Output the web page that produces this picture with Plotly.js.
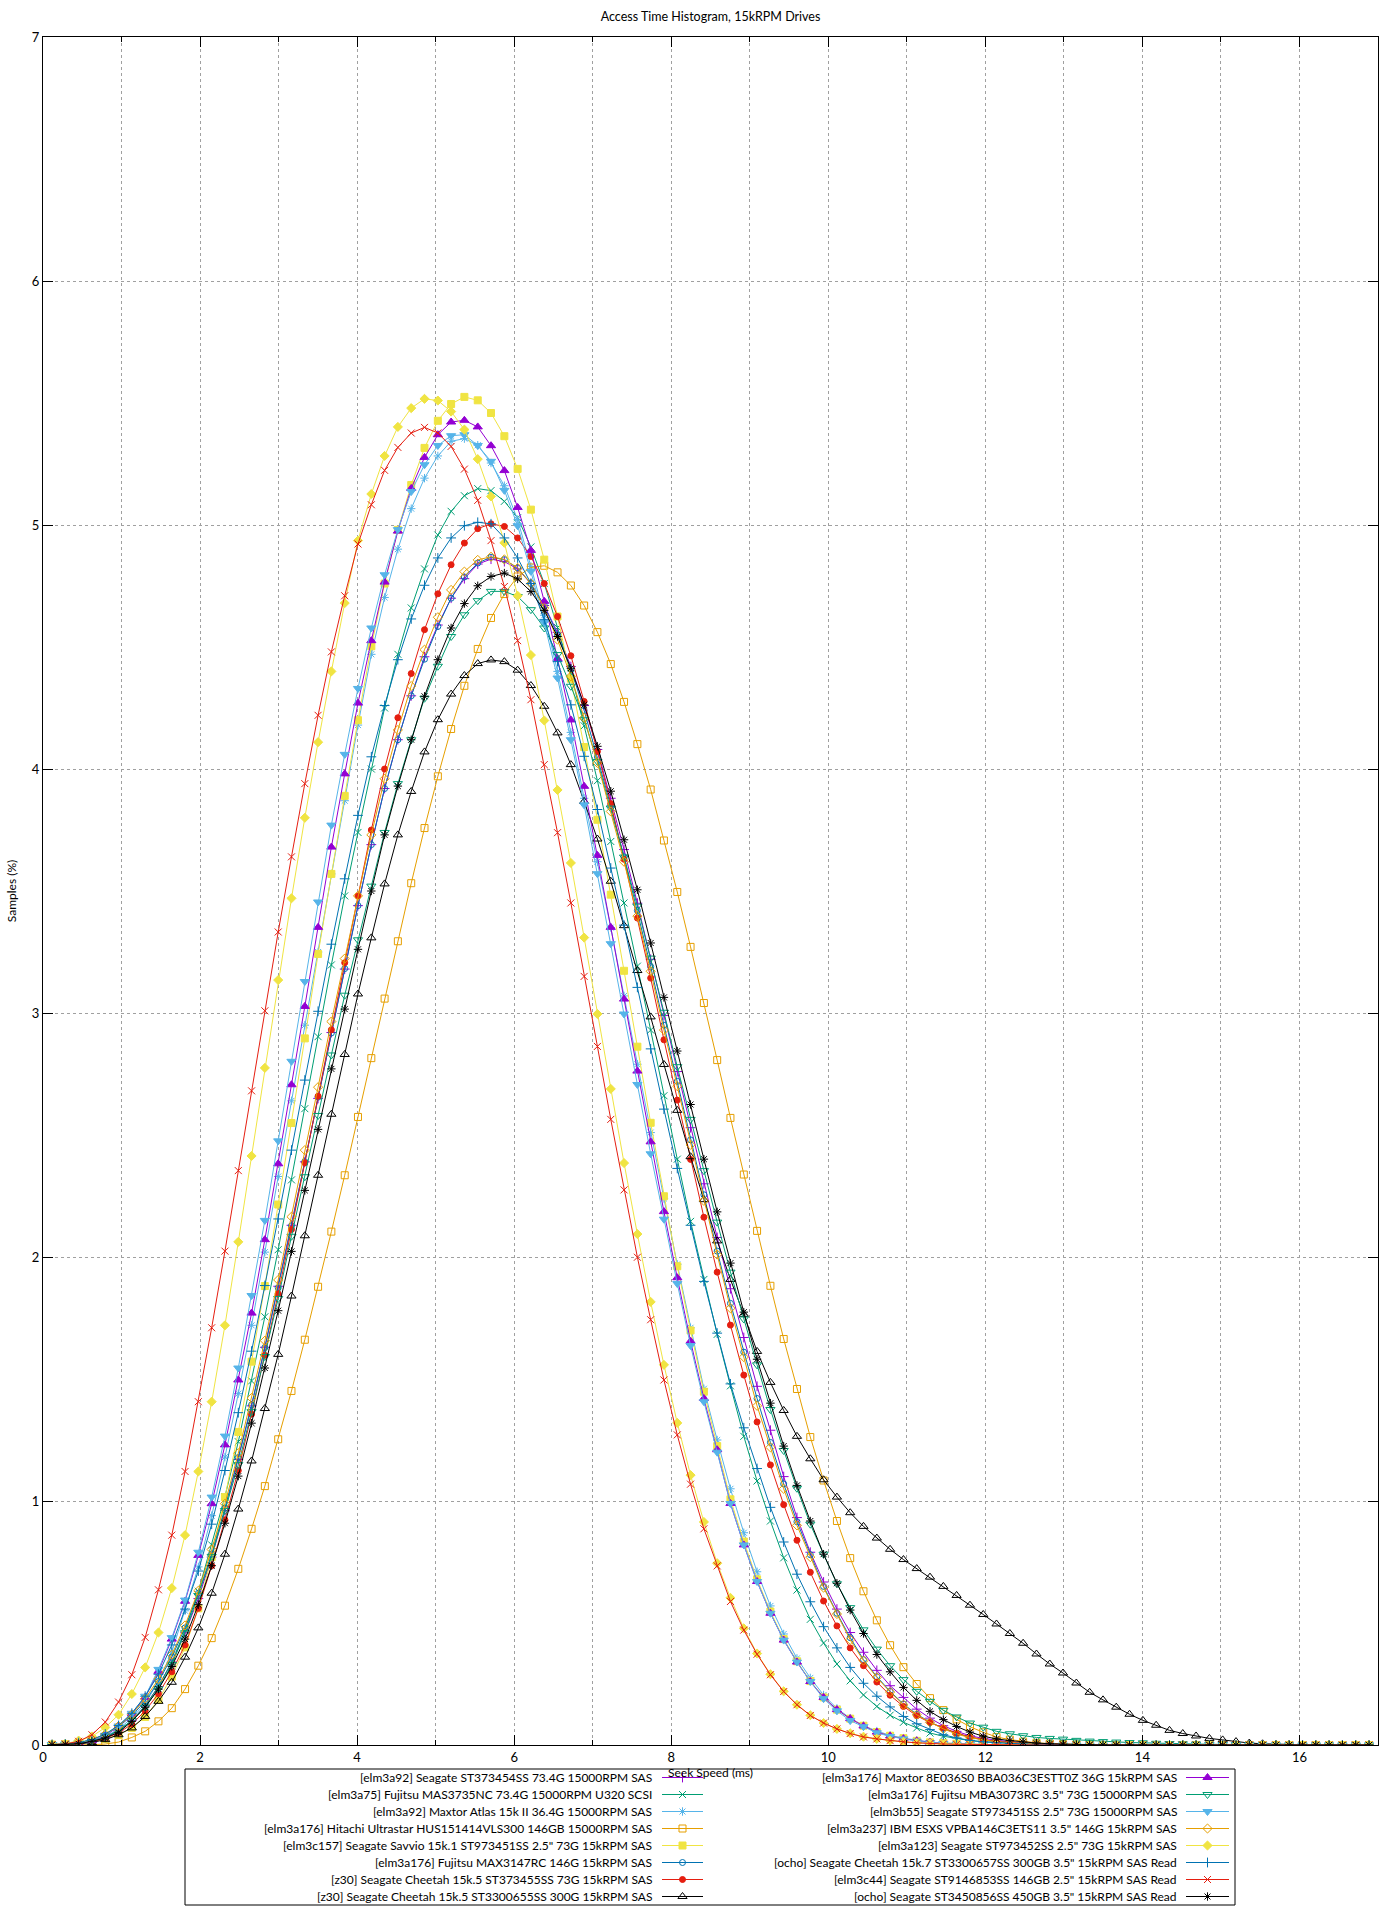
<!DOCTYPE html>
<html>
<head>
<meta charset="utf-8">
<script src="https://cdn.plot.ly/plotly-3.0.1.min.js"></script>
<style>html,body{margin:0;padding:0;background:#fff}#chart{width:1400px;height:1920px}</style>
</head>
<body>
<div id="chart"></div>
<script>
// Seek speed bin positions (ms)
const seekMs = [
 0.115,0.284,0.454,0.623,0.793,0.962,1.131,1.301,1.470,1.640,
 1.809,1.978,2.148,2.317,2.487,2.656,2.825,2.995,3.164,3.334,
 3.503,3.672,3.842,4.011,4.181,4.350,4.519,4.689,4.858,5.028,
 5.197,5.366,5.536,5.705,5.875,6.044,6.213,6.383,6.552,6.722,
 6.891,7.060,7.230,7.399,7.569,7.738,7.907,8.077,8.246,8.416,
 8.585,8.754,8.924,9.093,9.263,9.432,9.601,9.771,9.940,10.110,
 10.279,10.448,10.618,10.787,10.957,11.126,11.295,11.465,11.634,11.804,
 11.973,12.142,12.312,12.481,12.651,12.820,12.989,13.159,13.328,13.498,
 13.667,13.836,14.006,14.175,14.345,14.514,14.683,14.853,15.022,15.192,
 15.361,15.530,15.700,15.869,16.039,16.208,16.377,16.547,16.716,16.886
];

const seriesNames = [
 "[elm3a92] Seagate ST373454SS 73.4G 15000RPM SAS",
 "[elm3a75] Fujitsu MAS3735NC 73.4G 15000RPM U320 SCSI",
 "[elm3a92] Maxtor Atlas 15k II 36.4G 15000RPM SAS",
 "[elm3a176] Hitachi Ultrastar HUS151414VLS300 146GB 15000RPM SAS",
 "[elm3c157] Seagate Savvio 15k.1 ST973451SS 2.5\" 73G 15kRPM SAS",
 "[elm3a176] Fujitsu MAX3147RC 146G 15kRPM SAS",
 "[z30] Seagate Cheetah 15k.5 ST373455SS 73G 15kRPM SAS",
 "[z30] Seagate Cheetah 15k.5 ST3300655SS 300G 15kRPM SAS",
 "[elm3a176] Maxtor 8E036S0 BBA036C3ESTT0Z 36G 15kRPM SAS",
 "[elm3a176] Fujitsu MBA3073RC 3.5\" 73G 15000RPM SAS",
 "[elm3b55] Seagate ST973451SS 2.5\" 73G 15000RPM SAS",
 "[elm3a237] IBM ESXS VPBA146C3ETS11 3.5\" 146G 15kRPM SAS",
 "[elm3a123] Seagate ST973452SS 2.5\" 73G 15kRPM SAS",
 "[ocho] Seagate Cheetah 15k.7 ST3300657SS 300GB 3.5\" 15kRPM SAS Read",
 "[elm3c44] Seagate ST9146853SS 146GB 2.5\" 15kRPM SAS Read",
 "[ocho] Seagate ST3450856SS 450GB 3.5\" 15kRPM SAS Read"
];

// Samples (%) per bin, one array per drive
const pctST373454SS = [
 0.001,0.002,0.006,0.014,0.030,0.058,0.10,0.16,0.24,0.34,
 0.46,0.60,0.77,0.96,1.17,1.39,1.63,1.88,2.13,2.39,
 2.65,2.92,3.18,3.44,3.69,3.92,4.12,4.30,4.46,4.59,
 4.70,4.78,4.84,4.86,4.85,4.82,4.76,4.67,4.56,4.42,
 4.26,4.08,3.88,3.67,3.45,3.22,2.99,2.76,2.53,2.30,
 2.08,1.87,1.67,1.47,1.29,1.10,0.932,0.79,0.668,0.557,
 0.461,0.380,0.306,0.243,0.195,0.147,0.110,0.079,0.056,0.038,
 0.027,0.019,0.013,0.009,0.006,0.004,0.003,0.002,0.001,0,
 0,0,0,0,0,0,0,0,0,0,
 0,0,0,0,0,0,0,0,0,0
];
const pctMAS3735NC = [
 0.001,0.003,0.007,0.016,0.033,0.06,0.10,0.16,0.24,0.34,
 0.47,0.63,0.82,1.018,1.243,1.492,1.755,2.030,2.316,2.608,
 2.903,3.197,3.48,3.74,4.00,4.25,4.47,4.66,4.82,4.959,
 5.056,5.120,5.149,5.141,5.097,5.03,4.91,4.76,4.58,4.39,
 4.177,3.952,3.703,3.451,3.192,2.930,2.661,2.401,2.146,1.908,
 1.683,1.472,1.265,1.082,0.918,0.767,0.635,0.515,0.418,0.332,
 0.263,0.205,0.158,0.122,0.093,0.070,0.049,0.036,0.026,0.018,
 0.013,0.009,0.006,0.004,0.003,0.002,0.001,0,0,0,
 0,0,0,0,0,0,0,0,0,0,
 0,0,0,0,0,0,0,0,0,0
];
const pctAtlas15kII = [
 0.001,0.003,0.008,0.017,0.035,0.065,0.11,0.17,0.26,0.38,
 0.55,0.73,0.94,1.18,1.44,1.72,2.02,2.33,2.64,2.95,
 3.25,3.57,3.87,4.18,4.47,4.703,4.901,5.067,5.192,5.283,
 5.343,5.354,5.327,5.254,5.161,5.022,4.83,4.63,4.40,4.15,
 3.88,3.62,3.35,3.07,2.79,2.51,2.24,1.97,1.71,1.46,
 1.25,1.05,0.87,0.71,0.57,0.455,0.355,0.275,0.205,0.15,
 0.11,0.08,0.057,0.04,0.028,0.019,0.012,0.008,0.005,0.003,
 0.002,0.001,0,0,0,0,0,0,0,0,
 0,0,0,0,0,0,0,0,0,0,
 0,0,0,0,0,0,0,0,0,0
];
const pctHUS151414VLS300 = [
 0,0,0,0.001,0.004,0.012,0.031,0.056,0.097,0.151,
 0.229,0.325,0.438,0.571,0.722,0.886,1.061,1.253,1.451,1.661,
 1.878,2.104,2.335,2.574,2.815,3.059,3.294,3.532,3.758,3.970,
 4.164,4.341,4.492,4.619,4.717,4.789,4.826,4.833,4.806,4.752,
 4.670,4.561,4.430,4.275,4.102,3.916,3.707,3.496,3.271,3.041,
 2.807,2.570,2.338,2.107,1.882,1.664,1.459,1.262,1.084,0.918,
 0.766,0.630,0.511,0.409,0.319,0.250,0.192,0.143,0.105,0.075,
 0.052,0.033,0.022,0.014,0.009,0.006,0.004,0.002,0.001,0,
 0,0,0,0,0,0,0,0,0,0,
 0,0,0,0,0,0,0,0,0,0
];
const pctST973451SS_elm3c157 = [
 0.002,0.004,0.008,0.015,0.025,0.042,0.07,0.115,0.185,0.28,
 0.40,0.56,0.77,1.016,1.283,1.571,1.881,2.215,2.549,2.896,
 3.242,3.57,3.89,4.20,4.503,4.76,4.98,5.164,5.316,5.427,
 5.496,5.525,5.511,5.459,5.364,5.230,5.063,4.858,4.625,4.37,
 4.090,3.792,3.485,3.173,2.862,2.550,2.249,1.962,1.699,1.448,
 1.225,1.007,0.834,0.679,0.547,0.434,0.343,0.262,0.195,0.145,
 0.108,0.079,0.053,0.038,0.028,0.017,0.011,0.008,0.005,0.003,
 0.002,0.001,0,0,0,0,0,0,0,0,
 0,0,0,0,0,0,0,0,0,0,
 0,0,0,0,0,0,0,0,0,0
];
const pctMAX3147RC = [
 0.001,0.003,0.009,0.021,0.042,0.075,0.12,0.18,0.26,0.36,
 0.48,0.622,0.782,0.971,1.178,1.394,1.629,1.874,2.128,2.391,
 2.655,2.918,3.182,3.44,3.69,3.92,4.12,4.30,4.45,4.584,
 4.700,4.787,4.844,4.868,4.858,4.824,4.760,4.67,4.55,4.41,
 4.24,4.05,3.85,3.64,3.42,3.19,2.95,2.72,2.48,2.255,
 2.024,1.81,1.61,1.42,1.24,1.07,0.915,0.78,0.65,0.54,
 0.44,0.35,0.28,0.22,0.168,0.126,0.094,0.068,0.047,0.032,
 0.021,0.014,0.009,0.006,0.004,0.002,0.001,0,0,0,
 0,0,0,0,0,0,0,0,0,0,
 0,0,0,0,0,0,0,0,0,0
];
const pctST373455SS = [
 0.001,0.003,0.006,0.013,0.027,0.05,0.085,0.14,0.21,0.30,
 0.41,0.56,0.735,0.923,1.125,1.356,1.597,1.849,2.113,2.386,
 2.659,2.931,3.206,3.48,3.75,4.00,4.21,4.391,4.571,4.718,
 4.837,4.926,4.985,5.005,4.994,4.947,4.871,4.760,4.625,4.464,
 4.277,4.072,3.858,3.63,3.389,3.143,2.890,2.643,2.40,2.163,
 1.938,1.721,1.516,1.324,1.148,0.985,0.839,0.708,0.590,0.488,
 0.398,0.325,0.258,0.204,0.158,0.120,0.092,0.070,0.049,0.033,
 0.022,0.015,0.010,0.007,0.005,0.003,0.002,0.001,0,0,
 0,0,0,0,0,0,0,0,0,0,
 0,0,0,0,0,0,0,0,0,0
];
const pctST3300655SS = [
 0.001,0.002,0.005,0.010,0.022,0.042,0.070,0.117,0.179,0.257,
 0.360,0.480,0.622,0.782,0.967,1.164,1.379,1.601,1.840,2.087,
 2.335,2.585,2.830,3.078,3.308,3.529,3.730,3.908,4.070,4.202,
 4.307,4.383,4.432,4.447,4.440,4.405,4.342,4.257,4.148,4.018,
 3.867,3.713,3.540,3.358,3.174,2.984,2.789,2.601,2.411,2.235,
 2.066,1.908,1.765,1.613,1.486,1.371,1.265,1.173,1.087,1.016,
 0.952,0.896,0.848,0.802,0.760,0.723,0.688,0.650,0.613,0.573,
 0.535,0.496,0.457,0.417,0.373,0.332,0.295,0.254,0.216,0.185,
 0.155,0.126,0.101,0.081,0.060,0.047,0.037,0.027,0.021,0.014,
 0.008,0.005,0.003,0.002,0.001,0,0,0,0,0
];
const pct8E036S0 = [
 0.001,0.003,0.008,0.018,0.038,0.076,0.127,0.196,0.302,0.434,
 0.589,0.777,0.989,1.230,1.496,1.770,2.071,2.382,2.706,3.027,
 3.351,3.68,3.98,4.27,4.526,4.766,4.975,5.150,5.277,5.370,
 5.422,5.429,5.402,5.325,5.223,5.072,4.896,4.687,4.452,4.201,
 3.929,3.646,3.351,3.057,2.762,2.472,2.186,1.915,1.655,1.420,
 1.21,0.99,0.82,0.67,0.54,0.43,0.34,0.26,0.195,0.145,
 0.108,0.078,0.053,0.037,0.026,0.017,0.011,0.007,0.004,0.002,
 0.001,0,0,0,0,0,0,0,0,0,
 0,0,0,0,0,0,0,0,0,0,
 0,0,0,0,0,0,0,0,0,0
];
const pctMBA3073RC = [
 0.001,0.002,0.007,0.016,0.032,0.06,0.10,0.155,0.23,0.33,
 0.46,0.613,0.773,0.961,1.149,1.366,1.592,1.830,2.085,2.329,
 2.580,2.828,3.073,3.30,3.52,3.74,3.94,4.12,4.29,4.421,
 4.543,4.632,4.690,4.728,4.728,4.707,4.653,4.578,4.469,4.339,
 4.202,4.031,3.84,3.639,3.438,3.225,3.003,2.780,2.564,2.354,
 2.143,1.938,1.746,1.558,1.375,1.207,1.052,0.905,0.782,0.661,
 0.563,0.472,0.393,0.325,0.268,0.220,0.179,0.142,0.115,0.090,
 0.073,0.056,0.046,0.038,0.031,0.027,0.024,0.019,0.016,0.014,
 0.012,0.010,0.009,0.007,0.006,0.005,0.004,0.003,0.002,0.001,
 0.001,0,0,0,0,0,0,0,0,0
];
const pctST973451SS_elm3b55 = [
 0.002,0.004,0.010,0.020,0.040,0.078,0.13,0.20,0.31,0.44,
 0.594,0.79,1.016,1.266,1.545,1.842,2.150,2.476,2.802,3.129,
 3.455,3.77,4.06,4.33,4.578,4.796,4.981,5.137,5.247,5.326,
 5.366,5.370,5.326,5.261,5.142,4.997,4.81,4.60,4.373,4.120,
 3.853,3.571,3.284,2.996,2.707,2.423,2.155,1.891,1.637,1.407,
 1.20,0.99,0.82,0.67,0.54,0.43,0.34,0.26,0.19,0.14,
 0.10,0.075,0.05,0.035,0.025,0.016,0.010,0.006,0.004,0.002,
 0.001,0,0,0,0,0,0,0,0,0,
 0,0,0,0,0,0,0,0,0,0,
 0,0,0,0,0,0,0,0,0,0
];
const pctVPBA146C3ETS11 = [
 0.001,0.003,0.009,0.022,0.044,0.078,0.125,0.19,0.27,0.37,
 0.49,0.632,0.801,0.989,1.196,1.422,1.657,1.906,2.165,2.438,
 2.696,2.965,3.223,3.48,3.73,3.96,4.16,4.34,4.489,4.622,
 4.734,4.809,4.857,4.870,4.859,4.824,4.76,4.66,4.53,4.38,
 4.21,4.025,3.826,3.62,3.397,3.171,2.93,2.70,2.46,2.23,
 2.01,1.79,1.59,1.39,1.22,1.05,0.90,0.77,0.645,0.537,
 0.431,0.346,0.277,0.217,0.165,0.124,0.093,0.066,0.045,0.030,
 0.020,0.013,0.009,0.006,0.004,0.002,0.001,0,0,0,
 0,0,0,0,0,0,0,0,0,0,
 0,0,0,0,0,0,0,0,0,0
];
const pctST973452SS = [
 0.003,0.005,0.018,0.035,0.072,0.124,0.209,0.318,0.461,0.643,
 0.860,1.121,1.407,1.720,2.062,2.414,2.775,3.135,3.47,3.80,
 4.11,4.40,4.68,4.936,5.127,5.283,5.402,5.479,5.517,5.510,
 5.465,5.391,5.270,5.117,4.927,4.710,4.467,4.199,3.914,3.615,
 3.309,2.996,2.689,2.385,2.094,1.816,1.558,1.320,1.106,0.914,
 0.745,0.603,0.478,0.375,0.290,0.220,0.165,0.122,0.090,0.066,
 0.048,0.034,0.025,0.018,0.013,0.009,0.006,0.004,0.003,0.002,
 0.001,0,0,0,0,0,0,0,0,0,
 0,0,0,0,0,0,0,0,0,0,
 0,0,0,0,0,0,0,0,0,0
];
const pctST3300657SS = [
 0.002,0.004,0.010,0.022,0.045,0.08,0.13,0.20,0.29,0.41,
 0.557,0.713,0.905,1.125,1.362,1.614,1.883,2.156,2.438,2.725,
 3.007,3.282,3.55,3.81,4.05,4.26,4.448,4.615,4.753,4.865,
 4.947,4.997,5.011,5.005,4.947,4.865,4.760,4.612,4.44,4.263,
 4.052,3.834,3.594,3.36,3.105,2.853,2.606,2.363,2.13,1.90,
 1.688,1.480,1.300,1.133,0.974,0.832,0.700,0.587,0.485,0.398,
 0.318,0.253,0.200,0.156,0.117,0.087,0.063,0.042,0.029,0.019,
 0.013,0.009,0.006,0.004,0.003,0.002,0.001,0,0,0,
 0,0,0,0,0,0,0,0,0,0,
 0,0,0,0,0,0,0,0,0,0
];
const pctST9146853SS = [
 0.002,0.004,0.015,0.042,0.094,0.176,0.288,0.441,0.636,0.860,
 1.121,1.407,1.710,2.024,2.354,2.681,3.009,3.332,3.64,3.94,
 4.22,4.48,4.71,4.922,5.083,5.224,5.318,5.377,5.400,5.377,
 5.322,5.229,5.101,4.936,4.748,4.526,4.284,4.018,3.739,3.451,
 3.150,2.863,2.564,2.275,1.999,1.743,1.496,1.271,1.069,0.886,
 0.734,0.588,0.471,0.372,0.288,0.219,0.165,0.121,0.090,0.066,
 0.047,0.033,0.025,0.018,0.013,0.009,0.006,0.004,0.003,0.002,
 0.001,0,0,0,0,0,0,0,0,0,
 0,0,0,0,0,0,0,0,0,0,
 0,0,0,0,0,0,0,0,0,0
];
const pctST3450856SS = [
 0.001,0.002,0.005,0.015,0.029,0.052,0.097,0.155,0.229,0.322,
 0.434,0.575,0.735,0.909,1.102,1.319,1.545,1.780,2.023,2.273,
 2.523,2.771,3.016,3.261,3.50,3.73,3.93,4.12,4.298,4.448,
 4.578,4.678,4.751,4.789,4.803,4.779,4.727,4.650,4.543,4.413,
 4.263,4.093,3.909,3.710,3.505,3.287,3.064,2.844,2.625,2.401,
 2.185,1.975,1.774,1.581,1.401,1.225,1.064,0.918,0.782,0.663,
 0.553,0.457,0.371,0.300,0.236,0.183,0.138,0.104,0.076,0.053,
 0.036,0.025,0.018,0.012,0.008,0.005,0.003,0.002,0.001,0,
 0,0,0,0,0,0,0,0,0,0,
 0,0,0,0,0,0,0,0,0,0
];

const seriesValues = [
 pctST373454SS, pctMAS3735NC, pctAtlas15kII, pctHUS151414VLS300,
 pctST973451SS_elm3c157, pctMAX3147RC, pctST373455SS, pctST3300655SS,
 pct8E036S0, pctMBA3073RC, pctST973451SS_elm3b55, pctVPBA146C3ETS11,
 pctST973452SS, pctST3300657SS, pctST9146853SS, pctST3450856SS
];

// styles (gnuplot default cycle)
const colors = ['#9400d3','#009e73','#56b4e9','#e69f00','#f0e442','#0072b2','#e51e10','#000000'];
const symbols = ['cross-thin-open','x-thin-open','asterisk-open','square-open','square','circle-open','circle',
  'triangle-up-open','triangle-up','triangle-down-open','triangle-down','diamond-open','diamond',
  'cross-thin-open','x-thin-open','asterisk-open'];
const sizes = [7,7,7,7,7,6,6,8,8,8,8,7,7,7,7,7];

const FONT = 'Lato, "Liberation Sans", sans-serif';

// page geometry (px)
const W = 1400, H = 1920;
const PLOT_L = 43, PLOT_R = 1378, PLOT_T = 37, PLOT_B = 1745;
const mainYDomainBottom = (H - PLOT_B) / (H - PLOT_T);
const keyYDomainTop = mainYDomainBottom - 0.0003;
const keyYTop = H - keyYDomainTop * (H - PLOT_T);

// key (legend) box geometry in page px
const KEY = {
  left: 185, right: 1235, top: 1769, bottom: 1905, pitch: 17,
  textRight: [654, 1179], lineStart: [662, 1186], lineEnd: [703, 1229]
};

const dataTraces = seriesValues.map((vals, i) => {
  const c = colors[i % 8];
  return {
    type: 'scatter', mode: 'lines+markers',
    name: seriesNames[i],
    x: seekMs, y: vals,
    xaxis: 'x', yaxis: 'y',
    showlegend: false,
    line: {color: c, width: 1},
    marker: {symbol: symbols[i], size: sizes[i], color: c, line: {color: c, width: 1}},
    hoverinfo: 'skip'
  };
});

const keyTraces = seriesNames.map((name, i) => {
  const c = colors[i % 8];
  const row = i % 8, col = Math.floor(i / 8);
  const yc = KEY.top + KEY.pitch * (row + 0.5);
  const x0 = KEY.lineStart[col], x1 = KEY.lineEnd[col];
  return {
    type: 'scatter', mode: 'lines+markers',
    name: name,
    x: [x0, (x0 + x1) / 2, x1], y: [yc, yc, yc],
    xaxis: 'x3', yaxis: 'y3',
    showlegend: false,
    line: {color: c, width: 1},
    marker: {symbol: symbols[i], size: [0, sizes[i], 0], opacity: [0, 1, 0], color: c, line: {color: c, width: 1}},
    hoverinfo: 'skip'
  };
});

const keyLabels = seriesNames.map((name, i) => {
  const row = i % 8, col = Math.floor(i / 8);
  return {
    xref: 'x3', yref: 'y3',
    x: KEY.textRight[col], y: KEY.top + KEY.pitch * (row + 0.5),
    xanchor: 'right', yanchor: 'middle',
    text: name, showarrow: false,
    font: {family: FONT, size: 12, color: '#000'}
  };
});

const layout = {
  width: W, height: H,
  margin: {l: PLOT_L, r: W - PLOT_R, t: PLOT_T, b: 0, pad: 0, autoexpand: false},
  paper_bgcolor: '#ffffff',
  plot_bgcolor: '#ffffff',
  font: {family: FONT, size: 12, color: '#000'},
  title: {text: 'Access Time Histogram, 15kRPM Drives', x: 0.5, xref: 'paper', y: 1 - 17 / H, yanchor: 'middle',
          font: {family: FONT, size: 12.5, color: '#000'}},
  showlegend: false,
  xaxis: {
    domain: [0, 1], anchor: 'y',
    range: [0, 17],
    tick0: 0, dtick: 2,
    ticks: 'inside', ticklen: 10, tickcolor: '#000', tickwidth: 1,
    showline: true, linecolor: '#000', linewidth: 1, mirror: 'ticks',
    showgrid: true, gridcolor: '#a0a0a0', griddash: 'dot', gridwidth: 1,
    zeroline: false,
    minor: {dtick: 1, ticks: 'inside', ticklen: 5, tickcolor: '#000', showgrid: true, gridcolor: '#a0a0a0', griddash: 'dot', gridwidth: 1},
    tickfont: {family: FONT, size: 13, color: '#000'},
    title: {text: 'Seek Speed (ms)', standoff: 3, font: {family: FONT, size: 12, color: '#000'}}
  },
  yaxis: {
    domain: [mainYDomainBottom, 1], anchor: 'x',
    range: [0, 7],
    tick0: 0, dtick: 1,
    ticks: 'inside', ticklen: 10, tickcolor: '#000', tickwidth: 1,
    showline: true, linecolor: '#000', linewidth: 1, mirror: 'ticks',
    showgrid: true, gridcolor: '#a0a0a0', griddash: 'dot', gridwidth: 1,
    zeroline: false,
    tickfont: {family: FONT, size: 13, color: '#000'},
    title: {text: 'Samples (%)', standoff: 12, font: {family: FONT, size: 12, color: '#000'}}
  },
  // key area axes in page pixels (not visible)
  xaxis3: {domain: [0, 1], anchor: 'y3', range: [PLOT_L, PLOT_R], visible: false, fixedrange: true},
  yaxis3: {domain: [0, keyYDomainTop], anchor: 'x3', range: [H, keyYTop], visible: false, fixedrange: true},
  shapes: [{
    type: 'rect', xref: 'x3', yref: 'y3',
    x0: KEY.left, x1: KEY.right, y0: KEY.top, y1: KEY.bottom,
    line: {color: '#000', width: 1}, fillcolor: 'rgba(0,0,0,0)', layer: 'above'
  }],
  annotations: keyLabels
};

Plotly.newPlot('chart', dataTraces.concat(keyTraces), layout, {staticPlot: true, displayModeBar: false});
</script>
</body>
</html>
